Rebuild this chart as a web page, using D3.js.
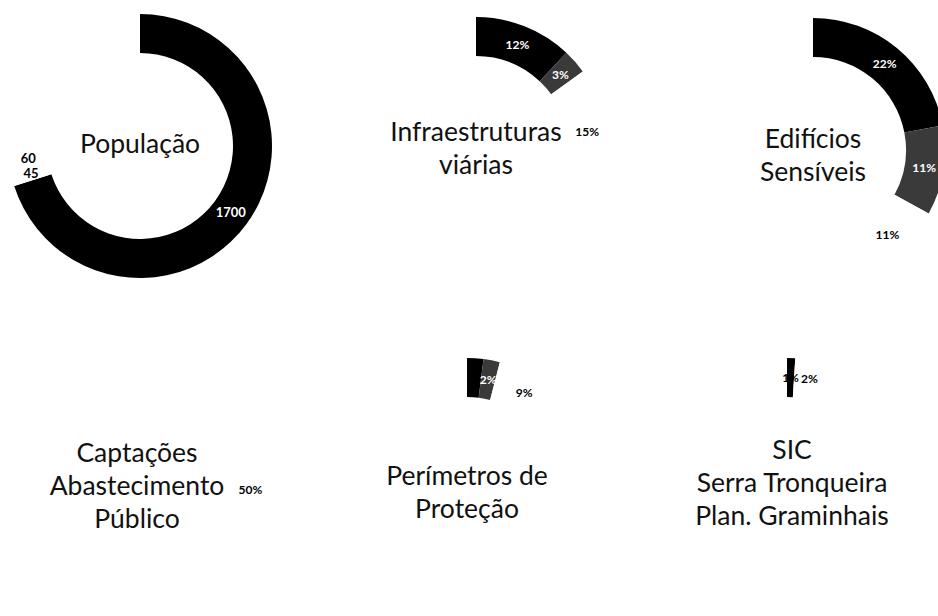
<!DOCTYPE html>
<html>
<head>
<meta charset="utf-8">
<script src="https://cdnjs.cloudflare.com/ajax/libs/d3/7.8.5/d3.min.js"></script>
<style>
  html, body { margin: 0; padding: 0; background: #fff; }
  svg { display: block; }
  .title { font-family: Lato, "Open Sans", sans-serif; font-size: 26.5px; fill: #111; }
  .lbl { font-family: Lato, "Open Sans", sans-serif; font-weight: 700; font-size: 12px; }
</style>
</head>
<body>
<svg id="mainsvg" width="938" height="616"></svg>
<script>
// titles, one entry per line
const titles = [['População'],
                ['Infraestruturas', 'viárias'],
                ['Edifícios', 'Sensíveis'],
                ['Captações', 'Abastecimento', 'Público'],
                ['Perímetros de', 'Proteção'],
                ['SIC', 'Serra Tronqueira', 'Plan. Graminhais']];

// slice values (last slice = rest of the ring, no label)
const populacao   = [1700, 45, 60, 620];
const infraestr   = [12, 3, 15, 70];
const edificios   = [22, 11, 11, 56];
const captacoes   = [50, 50];
const perimetros  = [2, 2, 9, 87];
const sic         = [1, 2, 97];

// label texts
const populacaoLbl  = ['1700', '45', '60', ''];
const infraestrLbl  = ['12%', '3%', '15%', ''];
const edificiosLbl  = ['22%', '11%', '11%', ''];
const captacoesLbl  = ['50%', ''];
const perimetrosLbl = ['', '2%', '9%', ''];
const sicLbl        = ['1%', '2%', ''];

const series = [populacao, infraestr, edificios, captacoes, perimetros, sic];
const labels = [populacaoLbl, infraestrLbl, edificiosLbl, captacoesLbl, perimetrosLbl, sicLbl];

// styling / layout (not data)
const fills = [['#000', '#fff', '#fff', '#fff'],
               ['#000', '#3a3a3a', '#fff', '#fff'],
               ['#000', '#3a3a3a', '#fff', '#fff'],
               ['#fff', '#fff'],
               ['#000', '#3a3a3a', '#fff', '#fff'],
               ['#000', '#fff', '#fff']];
const inks  = [['#fff', '#000', '#000', '#000'],
               ['#fff', '#fff', '#000', '#000'],
               ['#fff', '#fff', '#000', '#000'],
               ['#000', '#000'],
               ['#000', '#fff', '#000', '#000'],
               ['#000', '#000', '#000']];
const panels = [{cx: 140, cy: 146, tx: 140, ty: -1},
                {cx: 476, cy: 149, tx: 476, ty: 0},
                {cx: 813, cy: 150, tx: 813, ty: 6},
                {cx: 138, cy: 490, tx: 137, ty: -3},
                {cx: 467, cy: 490, tx: 467, ty: 3},
                {cx: 787, cy: 490, tx: 792, ty: -6}];

var svg = d3.select('#mainsvg');
var rOuter = 132, rInner = 93, lineH = 33;

var pie = d3.pie().sort(null).value(d => d);
var arc = d3.arc().innerRadius(rInner).outerRadius(rOuter);

series.forEach(function(vals, i) {
    var p = panels[i];
    var g = svg.append('g')
        .attr('transform', 'translate(' + p.cx + ',' + p.cy + ')');

    var slices = pie(vals);

    g.selectAll('path')
        .data(slices)
        .enter()
        .append('path')
        .attr('d', arc)
        .attr('fill', (d, j) => fills[i][j]);

    // labels at the centroid; nudge right if they collide with the previous one
    var prev = null;
    slices.forEach(function(d, j) {
        var txt = labels[i][j];
        if (!txt) return;
        var c = arc.centroid(d);
        var t = g.append('text')
            .attr('class', 'lbl')
            .attr('text-anchor', 'middle')
            .attr('dy', '0.35em')
            .attr('x', c[0])
            .attr('y', c[1])
            .style('font-size', i == 0 ? '13px' : null)
            .attr('fill', inks[i][j])
            .text(txt);
        var w = t.node().getComputedTextLength();
        var left = c[0] - w / 2;
        if (prev && Math.abs(c[1] - prev.y) < 10 && left < prev.right + 2) {
            left = prev.right + 2;
            t.attr('x', left + w / 2);
        }
        prev = {y: c[1], right: left + w};
    });

    // centre title
    var lines = titles[i];
    var y0 = -(lines.length - 1) * lineH / 2 + 8 + p.ty;
    var title = svg.append('text')
        .attr('class', 'title')
        .attr('text-anchor', 'middle')
        .attr('transform', 'translate(' + p.tx + ',' + p.cy + ')');
    lines.forEach(function(l, k) {
        title.append('tspan')
            .attr('x', 0)
            .attr('y', y0 + k * lineH)
            .text(l);
    });
});
</script>
</body>
</html>
